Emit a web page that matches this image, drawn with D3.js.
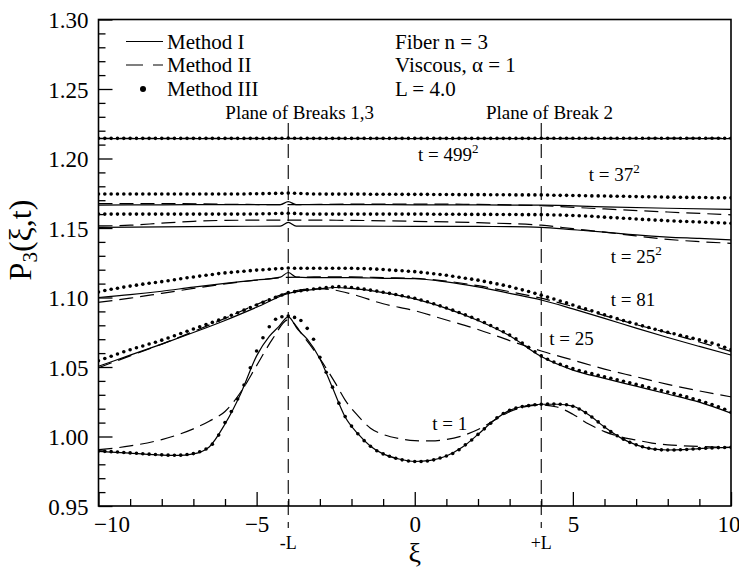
<!DOCTYPE html>
<html><head><meta charset="utf-8">
<script src="https://cdn.jsdelivr.net/npm/d3@7"></script>
<style>
html,body{margin:0;padding:0;background:#fff;}
svg{display:block;font-family:"Liberation Serif","Times New Roman",serif;}
</style></head><body>
<svg id="chart" width="739" height="570"></svg>
<script>
// ---------------- DATA ----------------
const X_TICKS_MAJOR = [-10, -5, 0, 5, 10];
const X_TICKS_MINOR = [-9,-8,-7,-6,-4,-3,-2,-1,1,2,3,4,6,7,8,9];
const Y_TICKS_MAJOR = [0.95, 1.00, 1.05, 1.10, 1.15, 1.20, 1.25, 1.30];
const Y_TICKS_MINOR = [0.96,0.97,0.98,0.99,1.01,1.02,1.03,1.04,1.06,1.07,1.08,1.09,1.11,1.12,1.13,1.14,1.16,1.17,1.18,1.19,1.21,1.22,1.23,1.24,1.26,1.27,1.28,1.29];
const BREAKS = [-4, 4];

// Method III dots: xi = -10, -9.8, ..., 10
const X_DOTS = d3.range(101).map(i => -10 + i * 0.2);

const dots_t499sq = [
1.2145,1.2145,1.2145,1.2145,1.2145,1.2145,1.2145,1.2145,1.2145,1.2145,
1.2145,1.2145,1.2145,1.2145,1.2145,1.2145,1.2145,1.2145,1.2145,1.2145,
1.2145,1.2145,1.2145,1.2145,1.2145,1.2145,1.2145,1.2145,1.2145,1.2146,
1.2147,1.2146,1.2145,1.2145,1.2145,1.2145,1.2145,1.2145,1.2145,1.2145,
1.2145,1.2145,1.2145,1.2145,1.2145,1.2145,1.2145,1.2145,1.2145,1.2145,
1.2145,1.2145,1.2145,1.2145,1.2145,1.2145,1.2145,1.2145,1.2145,1.2145,
1.2145,1.2145,1.2145,1.2145,1.2145,1.2145,1.2145,1.2145,1.2145,1.2146,
1.2146,1.2146,1.2146,1.2146,1.2146,1.2146,1.2146,1.2146,1.2146,1.2146,
1.2146,1.2146,1.2146,1.2146,1.2146,1.2146,1.2146,1.2146,1.2146,1.2146,
1.2146,1.2146,1.2146,1.2146,1.2146,1.2146,1.2146,1.2146,1.2146,1.2146,
1.2146];
const dots_t37sq = [
1.1745,1.1745,1.1745,1.1745,1.1745,1.1745,1.1745,1.1745,1.1745,1.1745,
1.1745,1.1745,1.1745,1.1745,1.1745,1.1745,1.1745,1.1745,1.1745,1.1745,
1.1745,1.1745,1.1745,1.1745,1.1746,1.1746,1.1747,1.1748,1.1749,1.1750,
1.1751,1.1750,1.1748,1.1746,1.1745,1.1745,1.1744,1.1744,1.1744,1.1744,
1.1744,1.1744,1.1744,1.1743,1.1743,1.1743,1.1743,1.1743,1.1742,1.1742,
1.1742,1.1742,1.1742,1.1741,1.1741,1.1741,1.1741,1.1740,1.1740,1.1740,
1.1740,1.1740,1.1739,1.1739,1.1739,1.1739,1.1738,1.1738,1.1738,1.1738,
1.1738,1.1737,1.1736,1.1735,1.1735,1.1734,1.1733,1.1732,1.1731,1.1731,
1.1730,1.1729,1.1728,1.1728,1.1727,1.1726,1.1725,1.1724,1.1724,1.1723,
1.1722,1.1722,1.1721,1.1720,1.1720,1.1719,1.1719,1.1718,1.1718,1.1717,
1.1717];
const dots_t25sq = [
1.1600,1.1600,1.1600,1.1600,1.1600,1.1600,1.1600,1.1600,1.1600,1.1600,
1.1600,1.1600,1.1600,1.1600,1.1600,1.1600,1.1600,1.1600,1.1600,1.1600,
1.1600,1.1600,1.1600,1.1600,1.1601,1.1601,1.1602,1.1603,1.1604,1.1605,
1.1606,1.1605,1.1603,1.1601,1.1600,1.1600,1.1600,1.1600,1.1600,1.1600,
1.1600,1.1600,1.1600,1.1600,1.1600,1.1600,1.1600,1.1600,1.1600,1.1600,
1.1600,1.1600,1.1600,1.1599,1.1599,1.1599,1.1599,1.1599,1.1598,1.1598,
1.1598,1.1598,1.1598,1.1597,1.1597,1.1597,1.1597,1.1596,1.1596,1.1596,
1.1596,1.1595,1.1594,1.1593,1.1591,1.1590,1.1588,1.1586,1.1584,1.1581,
1.1578,1.1575,1.1573,1.1570,1.1568,1.1565,1.1562,1.1560,1.1557,1.1555,
1.1552,1.1550,1.1548,1.1547,1.1545,1.1543,1.1541,1.1539,1.1538,1.1536,
1.1534];
const dots_t81 = [
1.1040,1.1050,1.1059,1.1067,1.1075,1.1082,1.1089,1.1096,1.1102,1.1108,
1.1114,1.1121,1.1128,1.1135,1.1142,1.1148,1.1154,1.1160,1.1166,1.1172,
1.1177,1.1181,1.1185,1.1189,1.1193,1.1197,1.1200,1.1203,1.1206,1.1209,
1.1212,1.1210,1.1210,1.1210,1.1210,1.1210,1.1210,1.1210,1.1210,1.1210,
1.1210,1.1209,1.1208,1.1206,1.1204,1.1201,1.1198,1.1195,1.1192,1.1189,
1.1186,1.1181,1.1176,1.1171,1.1165,1.1160,1.1153,1.1146,1.1139,1.1132,
1.1125,1.1116,1.1107,1.1098,1.1089,1.1079,1.1067,1.1055,1.1043,1.1030,
1.1017,1.1003,1.0989,1.0975,1.0961,1.0946,1.0932,1.0918,1.0904,1.0890,
1.0876,1.0862,1.0848,1.0835,1.0822,1.0809,1.0796,1.0784,1.0772,1.0761,
1.0750,1.0739,1.0728,1.0717,1.0706,1.0695,1.0684,1.0672,1.0658,1.0642,
1.0625];
const dots_t25 = [
1.0545,1.0561,1.0577,1.0594,1.0610,1.0624,1.0638,1.0651,1.0665,1.0678,
1.0693,1.0709,1.0725,1.0741,1.0757,1.0773,1.0789,1.0805,1.0821,1.0837,
1.0854,1.0872,1.0890,1.0909,1.0928,1.0946,1.0965,1.0983,1.1001,1.1018,
1.1035,1.1042,1.1049,1.1055,1.1061,1.1066,1.1071,1.1075,1.1078,1.1076,
1.1072,1.1066,1.1060,1.1053,1.1046,1.1038,1.1030,1.1022,1.1013,1.1004,
1.0995,1.0982,1.0969,1.0955,1.0940,1.0925,1.0909,1.0892,1.0875,1.0858,
1.0840,1.0820,1.0799,1.0777,1.0754,1.0730,1.0702,1.0672,1.0641,1.0610,
1.0580,1.0556,1.0536,1.0519,1.0503,1.0488,1.0475,1.0463,1.0452,1.0441,
1.0430,1.0419,1.0408,1.0397,1.0386,1.0375,1.0364,1.0353,1.0342,1.0331,
1.0320,1.0309,1.0297,1.0285,1.0272,1.0259,1.0245,1.0230,1.0214,1.0196,
1.0175];
const dots_t1 = [
0.9895,0.9893,0.9891,0.9888,0.9885,0.9882,0.9879,0.9876,0.9873,0.9870,
0.9868,0.9866,0.9865,0.9866,0.9870,0.9877,0.9890,0.9910,0.9945,1.0010,
1.0100,1.0180,1.0270,1.0370,1.0495,1.0615,1.0710,1.0790,1.0843,1.0862,
1.0867,1.0857,1.0835,1.0778,1.0700,1.0570,1.0462,1.0355,1.0240,1.0143,
1.0075,1.0020,0.9970,0.9930,0.9898,0.9875,0.9858,0.9843,0.9832,0.9824,
0.9820,0.9820,0.9824,0.9832,0.9845,0.9860,0.9878,0.9905,0.9940,0.9975,
1.0015,1.0055,1.0095,1.0135,1.0165,1.0188,1.0205,1.0215,1.0222,1.0228,
1.0232,1.0233,1.0233,1.0232,1.0228,1.0218,1.0198,1.0172,1.0140,1.0105,
1.0068,1.0035,1.0005,0.9980,0.9958,0.9940,0.9926,0.9915,0.9908,0.9904,
0.9903,0.9903,0.9905,0.9907,0.9910,0.9913,0.9916,0.9918,0.9920,0.9921,
0.9922];

// Method I (solid) [xi, P]
const m1_t499sq = [[-10,1.2143],[-4,1.2143],[0,1.2143],[4,1.2143],[10,1.2143]];
const m1_t37sq  = [[-10,1.1665],[-8,1.1667],[-6,1.1668],[-4.25,1.1668],[-4,1.1690],[-3.75,1.1668],[-2,1.1668],[0,1.1667],[2,1.1666],[4,1.1664],[6,1.1652],[8,1.1642],[10,1.1634]];
const m1_t25sq  = [[-10,1.1505],[-8,1.1508],[-6,1.1512],[-4.25,1.1513],[-4,1.1540],[-3.75,1.1513],[-2,1.1513],[0,1.1512],[2,1.1511],[3,1.1510],[4,1.1505],[5,1.1488],[6,1.1470],[7,1.1450],[8,1.1435],[9,1.1425],[10,1.1414]];
const m1_t81    = [[-10,1.1000],[-9,1.1020],[-8,1.1045],[-7,1.1075],[-6,1.1102],[-5,1.1126],[-4.25,1.1146],[-4,1.1180],[-3.75,1.1147],[-3,1.1143],[-2,1.1143],[-1,1.1138],[0,1.1135],[1,1.1112],[2,1.1076],[3,1.1030],[4,1.0982],[5,1.0918],[6,1.0850],[7,1.0780],[8,1.0712],[9,1.0648],[10,1.0586]];
const m1_t25    = [[-10,1.0505],[-9,1.0585],[-8,1.0665],[-7,1.0748],[-6,1.0835],[-5,1.0930],[-4,1.1030],[-3,1.1062],[-2.5,1.1072],[-2,1.1065],[-1,1.1035],[0,1.0990],[1,1.0922],[2,1.0835],[3,1.0725],[4,1.0575],[5,1.0478],[6,1.0418],[7,1.0362],[8,1.0306],[9,1.0247],[10,1.0168]];
const m1_t1     = [[-10,0.9893],[-9,0.9880],[-8,0.9866],[-7.5,0.9864],[-7,0.9875],[-6.5,0.9925],[-6,1.0090],[-5.5,1.0310],[-5,1.0580],[-4.6,1.0720],[-4.3,1.0790],[-4,1.0860],[-3.7,1.0770],[-3.4,1.0700],[-3,1.0560],[-2.6,1.0350],[-2.2,1.0140],[-1.8,1.0020],[-1.4,0.9930],[-1,0.9875],[-0.5,0.9838],[0,0.9820],[0.5,0.9828],[1,0.9860],[1.5,0.9922],[2,1.0015],[2.5,1.0115],[3,1.0188],[3.5,1.0220],[4,1.0232],[4.5,1.0232],[5,1.0218],[5.5,1.0156],[6,1.0068],[6.5,0.9992],[7,0.9940],[7.5,0.9911],[8,0.9903],[8.5,0.9906],[9,0.9913],[9.5,0.9919],[10,0.9922]];

// Method II (dashed) [xi, P]
const m2_t499sq = [[-10,1.2145],[-4,1.2145],[0,1.2145],[4,1.2145],[10,1.2147]];
const m2_t37sq  = [[-10,1.1675],[-8,1.1676],[-6,1.1671],[-4,1.1668],[-2,1.1672],[0,1.1672],[2,1.1670],[4,1.1660],[6,1.1637],[8,1.1615],[10,1.1595]];
const m2_t25sq  = [[-10,1.1515],[-9,1.1520],[-8,1.1535],[-7,1.1548],[-6,1.1555],[-4,1.1557],[-2,1.1555],[0,1.1548],[2,1.1538],[4,1.1520],[5,1.1495],[6,1.1470],[7,1.1443],[8,1.1418],[9,1.1402],[10,1.1390]];
const m2_t81    = [[-10,1.0965],[-9,1.0995],[-8,1.1030],[-7,1.1065],[-6,1.1098],[-5,1.1125],[-4,1.1145],[-3,1.1148],[-2,1.1148],[-1,1.1143],[0,1.1138],[1,1.1118],[2,1.1085],[3,1.1042],[4,1.0995],[5,1.0935],[6,1.0870],[7,1.0805],[8,1.0745],[9,1.0680],[10,1.0612]];
const m2_t25    = [[-10,1.0495],[-9,1.0580],[-8,1.0665],[-7,1.0755],[-6,1.0850],[-5,1.0950],[-4,1.1035],[-3.5,1.1058],[-3,1.1063],[-2.5,1.1052],[-2,1.1025],[-1,1.0955],[0,1.0905],[1,1.0838],[2,1.0770],[3,1.0690],[4,1.0615],[5,1.0550],[6,1.0485],[7,1.0430],[8,1.0375],[9,1.0328],[10,1.0285]];
const m2_t1     = [[-10,0.9905],[-9,0.9932],[-8,0.9978],[-7.5,1.0012],[-7,1.0055],[-6.5,1.0110],[-6,1.0180],[-5.5,1.0320],[-5,1.0510],[-4.5,1.0700],[-4,1.0840],[-3.5,1.0715],[-3,1.0560],[-2.5,1.0380],[-2.2,1.0262],[-1.8,1.0150],[-1.4,1.0060],[-1,1.0015],[-0.5,0.9985],[0,0.9970],[0.5,0.9968],[1,0.9978],[1.5,1.0005],[2,1.0050],[2.5,1.0115],[3,1.0178],[3.5,1.0215],[4,1.0227],[4.5,1.0212],[5,1.0160],[5.5,1.0090],[6,1.0035],[6.5,0.9998],[7,0.9975],[7.5,0.9953],[8,0.9940],[8.5,0.9933],[9,0.9928],[9.5,0.9924],[10,0.9922]];

const SERIES_LABELS = [
  {base:"t = 499", sup:"2", xi:0.1,   p:1.1985},
  {base:"t = 37",  sup:"2", xi:5.5,   p:1.1838},
  {base:"t = 25",  sup:"2", xi:6.2,   p:1.1248},
  {base:"t = 81",  sup:"",  xi:6.2,   p:1.0939},
  {base:"t = 25",  sup:"",  xi:4.25,  p:1.0658},
  {base:"t = 1",   sup:"",  xi:0.55,  p:1.0047}
];
const LEGEND = ["Method I", "Method II", "Method III"];
const INFO = ["Fiber n = 3", "Viscous, \u03b1 = 1", "L = 4.0"];
const BREAK_TITLES = [{text:"Plane of Breaks 1,3", xi:-5.99}, {text:"Plane of Break 2", xi:2.25}];

// ---------------- CHART ----------------
const svg = d3.select("#chart");
const L = 98.5, R = 731, T = 19.5, B = 506;
const x = d3.scaleLinear().domain([-10, 10]).range([L, R]);
const y = d3.scaleLinear().domain([0.95, 1.30]).range([B, T]);

svg.append("defs").append("clipPath").attr("id","clip")
  .append("rect").attr("x",L).attr("y",T).attr("width",R-L).attr("height",B-T);

// axes (ticks inward)
const gx = svg.append("g").attr("transform",`translate(0,${B})`)
  .call(d3.axisBottom(x).tickValues(X_TICKS_MAJOR).tickSize(-14).tickPadding(10).tickFormat(d3.format("d")));
const gxm = svg.append("g").attr("transform",`translate(0,${B})`)
  .call(d3.axisBottom(x).tickValues(X_TICKS_MINOR).tickSize(-7).tickFormat(""));
const gy = svg.append("g").attr("transform",`translate(${L},0)`)
  .call(d3.axisLeft(y).tickValues(Y_TICKS_MAJOR).tickSize(-14).tickPadding(10).tickFormat(d3.format(".2f")));
const gym = svg.append("g").attr("transform",`translate(${L},0)`)
  .call(d3.axisLeft(y).tickValues(Y_TICKS_MINOR).tickSize(-7).tickFormat(""));
[gx,gxm,gy,gym].forEach(g => {
  g.select(".domain").remove();
  g.selectAll("line").attr("stroke","#000").attr("stroke-width",1.3);
  g.selectAll("text").attr("fill","#000").style("font-family","'Liberation Serif',serif").style("font-size","23px");
});
gy.selectAll("text").attr("dy","0.35em");
gx.selectAll(".tick").filter(d => d === -10).select("text").attr("text-anchor","start").attr("x",-5);
gx.selectAll(".tick").filter(d => d === 10).select("text").attr("text-anchor","end").attr("x",9);

// frame
svg.append("rect").attr("x",L).attr("y",T).attr("width",R-L).attr("height",B-T)
  .attr("fill","none").attr("stroke","#000").attr("stroke-width",1.6);

// break planes
BREAKS.forEach(b => {
  svg.append("line").attr("x1",x(b)).attr("x2",x(b)).attr("y1",123).attr("y2",528)
    .attr("stroke","#000").attr("stroke-width",1.1).attr("stroke-dasharray","14,7");
});
svg.append("text").attr("x",x(BREAKS[0])).attr("y",549).attr("text-anchor","middle")
  .style("font-size","18px").text("-L");
svg.append("text").attr("x",x(BREAKS[1])).attr("y",549).attr("text-anchor","middle")
  .style("font-size","18px").text("+L");
BREAK_TITLES.forEach(bt => {
  svg.append("text").attr("x",x(bt.xi)).attr("y",119).style("font-size","19px").text(bt.text);
});

// curves
const line = d3.line().x(d => x(d[0])).y(d => y(d[1])).curve(d3.curveMonotoneX);
const plot = svg.append("g").attr("clip-path","url(#clip)");
[m1_t499sq,m1_t37sq,m1_t25sq,m1_t81,m1_t25,m1_t1].forEach(s => {
  plot.append("path").datum(s).attr("d",line).attr("fill","none").attr("stroke","#000").attr("stroke-width",1.2);
});
[m2_t499sq,m2_t37sq,m2_t25sq,m2_t81,m2_t25,m2_t1].forEach(s => {
  plot.append("path").datum(s).attr("d",line).attr("fill","none").attr("stroke","#000")
    .attr("stroke-width",1.2).attr("stroke-dasharray","14,7");
});
[dots_t499sq,dots_t37sq,dots_t25sq,dots_t81,dots_t25,dots_t1].forEach(vals => {
  plot.append("g").selectAll("circle").data(vals).join("circle")
    .attr("cx",(d,i) => x(X_DOTS[i])).attr("cy",d => y(d)).attr("r",1.8).attr("fill","#000");
});

// series labels
SERIES_LABELS.forEach(s => {
  const t = svg.append("text").attr("x",x(s.xi)).attr("y",y(s.p)).style("font-size","19px");
  t.append("tspan").text(s.base);
  if (s.sup) t.append("tspan").attr("dy",-8).style("font-size","13px").text(s.sup);
});

// legend
const legY = [41.5, 65, 89];
svg.append("line").attr("x1",126).attr("x2",163).attr("y1",legY[0]).attr("y2",legY[0]).attr("stroke","#000").attr("stroke-width",1.2);
svg.append("line").attr("x1",126).attr("x2",163).attr("y1",legY[1]).attr("y2",legY[1]).attr("stroke","#000").attr("stroke-width",1.2).attr("stroke-dasharray","17,10");
svg.append("circle").attr("cx",143).attr("cy",legY[2]).attr("r",3).attr("fill","#000");
LEGEND.forEach((t,i) => {
  svg.append("text").attr("x",167).attr("y",legY[i]+7).style("font-size","21px").text(t);
});
INFO.forEach((t,i) => {
  svg.append("text").attr("x",395).attr("y",legY[i]+7).style("font-size","21px").text(t);
});

// axis titles
svg.append("text").attr("x",x(0)).attr("y",562).attr("text-anchor","middle").style("font-size","28px").text("\u03be");
const yt = svg.append("text").attr("transform","translate(31,240) rotate(-90)").attr("text-anchor","middle").style("font-size","32px");
yt.append("tspan").text("P");
yt.append("tspan").attr("dy",6).style("font-size","21px").text("3");
yt.append("tspan").attr("dy",-6).text("(\u03be,t)");
</script>
</body></html>
